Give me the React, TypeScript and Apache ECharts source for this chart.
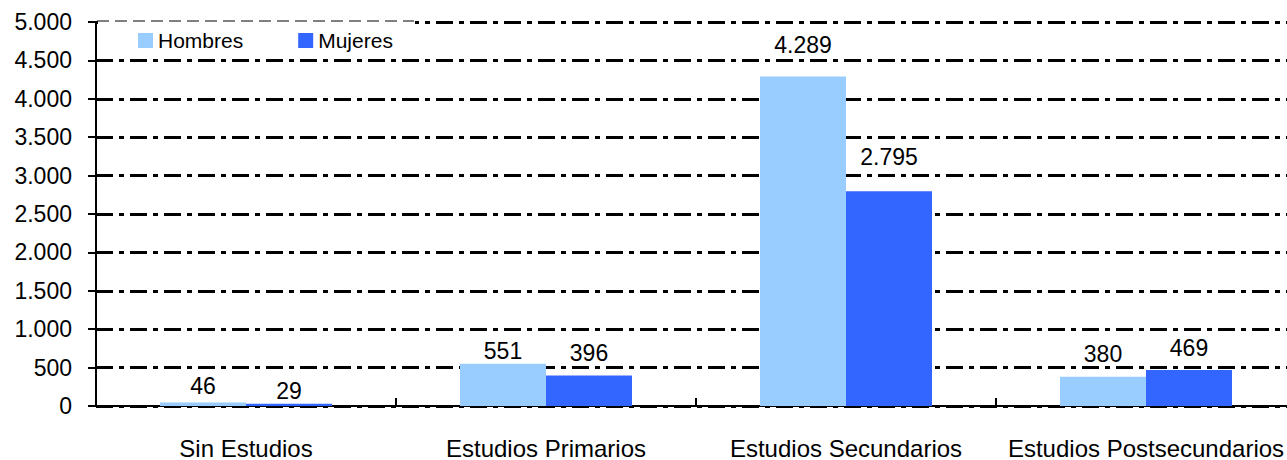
import React, { useEffect, useRef } from "react";
import * as echarts from "echarts";

const categories = ["Sin Estudios", "Estudios Primarios", "Estudios Secundarios", "Estudios Postsecundarios"];
const hombres = [46, 551, 4289, 380];
const mujeres = [29, 396, 2795, 469];
const hombresLabelOffset = [0, 4, -15, -6];
const mujeresLabelOffset = [4, -6, -18, -5];

const fmt = (v: number) => String(v).replace(/\B(?=(\d{3})+(?!\d))/g, ".");

export default function App() {
  const ref = useRef<HTMLDivElement>(null);
  useEffect(() => {
    const chart = echarts.init(ref.current!, null, { renderer: "svg" });
    const font = "'Liberation Sans', Arial, sans-serif";
    const mk = (vals: number[], offs: number[]) =>
      vals.map((v, i) => ({ value: v, label: { offset: [0, offs[i]] } }));
    const labelStyle = {
      show: true,
      position: "top",
      distance: 5,
      fontSize: 23,
      color: "#000",
      fontFamily: font,
      formatter: (p: any) => fmt(p.value),
    };
    chart.setOption({
      animation: false,
      backgroundColor: "#ffffff",
      textStyle: { fontFamily: font },
      grid: { left: 96, right: 0, top: 22, bottom: 50, containLabel: false },
      legend: {
        left: 133,
        top: 25,
        itemWidth: 15,
        itemHeight: 15,
        itemGap: 55,
        icon: "rect",
        z: 20,
        textStyle: { fontSize: 21, color: "#000", fontFamily: font },
        data: ["Hombres", "Mujeres"],
      },
      graphic: [
        {
          type: "rect",
          z: 15,
          shape: { x: 98, y: 20, width: 317, height: 37 },
          style: { fill: "#ffffff" },
        },
        {
          type: "line",
          z: 16,
          shape: { x1: 97, y1: 21, x2: 414, y2: 21 },
          style: { stroke: "#000", lineWidth: 1, lineDash: [12, 6] },
        },
      ],
      xAxis: {
        type: "category",
        data: categories,
        axisLine: { lineStyle: { color: "#000", width: 2 } },
        axisTick: { show: true, inside: true, length: 8, interval: 0, lineStyle: { color: "#000", width: 2 } },
        axisLabel: { fontSize: 24, color: "#000", margin: 30, interval: 0, hideOverlap: false, fontFamily: font },
      },
      yAxis: {
        type: "value",
        min: 0,
        max: 5000,
        interval: 500,
        axisLine: { show: true, lineStyle: { color: "#000", width: 2 } },
        axisTick: { show: true, length: 8, lineStyle: { color: "#000", width: 2 } },
        axisLabel: { fontSize: 23, color: "#000", margin: 24, formatter: (v: number) => fmt(v), fontFamily: font },
        splitLine: { lineStyle: { color: "#000", width: 3, type: [17, 6, 5, 6] } },
      },
      series: [
        {
          name: "Hombres",
          type: "bar",
          data: mk(hombres, hombresLabelOffset),
          barWidth: 86,
          barGap: "0%",
          itemStyle: { color: "#99CCFF" },
          label: labelStyle,
        },
        {
          name: "Mujeres",
          type: "bar",
          data: mk(mujeres, mujeresLabelOffset),
          barWidth: 86,
          barGap: "0%",
          itemStyle: { color: "#3366FF" },
          label: labelStyle,
        },
      ],
    });
    return () => chart.dispose();
  }, []);
  return (
    <div style={{ position: "fixed", left: 0, top: 0, width: 1287, height: 460, overflow: "hidden", background: "#fff" }}>
      <div ref={ref} style={{ width: 1296, height: 460 }} />
    </div>
  );
}
